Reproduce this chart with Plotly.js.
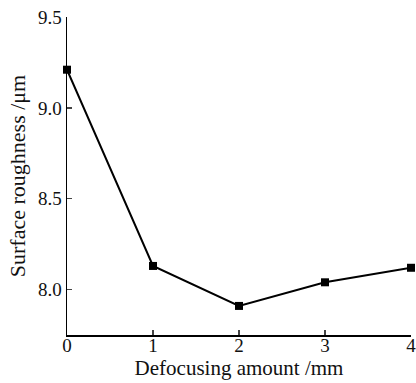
<!DOCTYPE html>
<html>
<head>
<meta charset="utf-8">
<script src="https://cdn.plot.ly/plotly-3.0.1.min.js"></script>
<style>html,body{margin:0;padding:0;background:#fff;}#chart{width:416px;height:383px;}</style>
</head>
<body>
<div id="chart"></div>
<script>
const defocus = [0, 1, 2, 3, 4];
const roughness = [9.21, 8.13, 7.91, 8.04, 8.12];
const xTickVals = [0, 1, 2, 3, 4];
const yTickVals = [8.0, 8.5, 9.0, 9.5];
const yTickText = ['8.0', '8.5', '9.0', '9.5'];

const fam = '"Liberation Serif", "Times New Roman", serif';
const tickFont = {family: fam, size: 19, color: '#111'};
const xTitleFont = {family: fam, size: 21, color: '#111'};
const yTitleFont = {family: fam, size: 22, color: '#111'};

Plotly.newPlot('chart', [{
  x: defocus, y: roughness, type: 'scatter', mode: 'lines+markers',
  line: {color: '#000', width: 2},
  marker: {symbol: 'square', size: 8, color: '#000'},
  cliponaxis: false
}], {
  width: 416, height: 383,
  margin: {l: 67, r: 5, t: 17, b: 48},
  paper_bgcolor: '#fff', plot_bgcolor: '#fff',
  showlegend: false,
  font: tickFont,
  xaxis: {
    range: [0, 4], tickvals: xTickVals, ticks: 'inside', ticklen: 5, tickwidth: 1.5,
    ticklabeloverflow: 'allow', ticklabelstandoff: -7,
    showline: true, linecolor: '#000', linewidth: 1.5, showgrid: false, zeroline: false,
    tickfont: tickFont, title: {text: 'Defocusing amount /mm', font: xTitleFont, standoff: 2}
  },
  yaxis: {
    range: [7.75, 9.5], tickvals: yTickVals, ticktext: yTickText, ticks: 'inside', ticklen: 5, tickwidth: 1.5,
    ticklabeloverflow: 'allow',
    showline: true, linecolor: '#000', linewidth: 1.5, showgrid: false, zeroline: false,
    tickfont: tickFont, title: {text: 'Surface roughness /μm', font: yTitleFont, standoff: 6}
  }
}, {displayModeBar: false, staticPlot: true});
</script>
</body>
</html>
